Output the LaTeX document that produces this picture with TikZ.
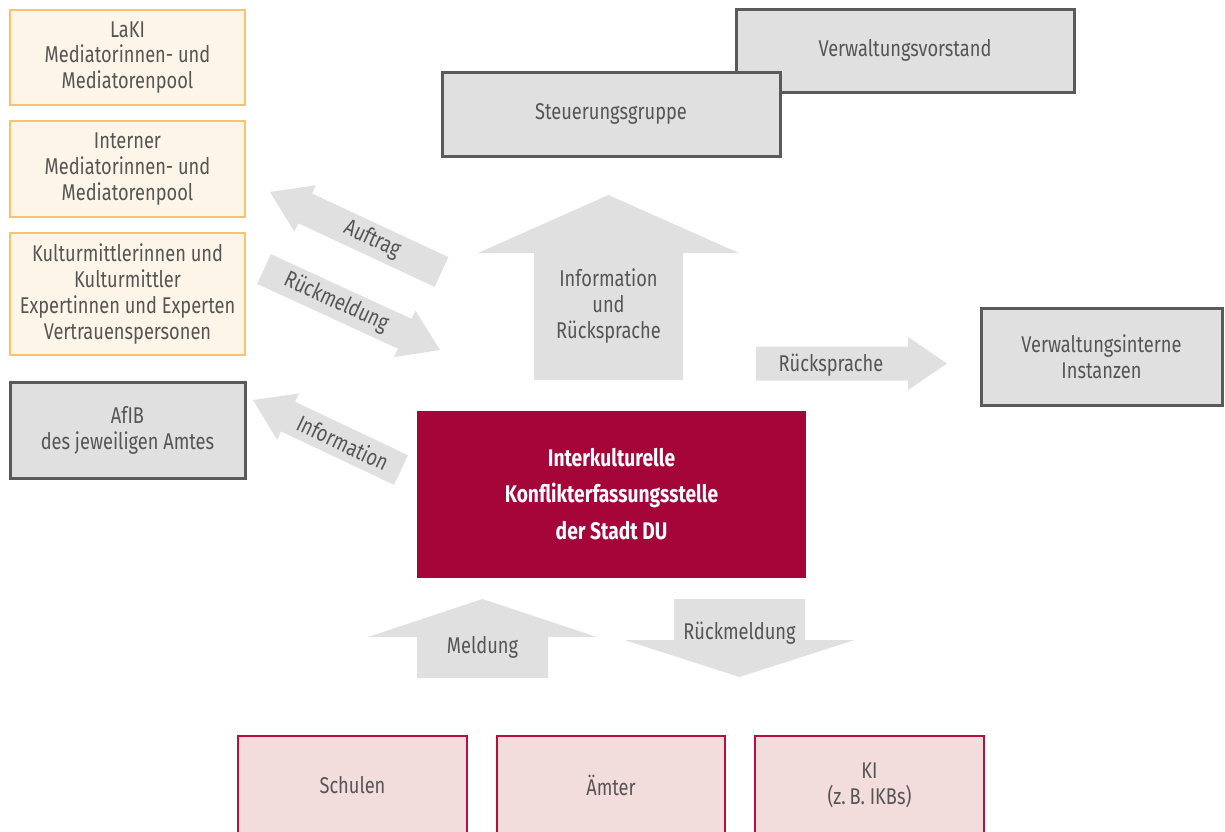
\documentclass[tikz,border=0pt]{standalone}
\usepackage{fontspec}
\setmainfont[FakeStretch=0.8]{Fira Sans}
\usepackage{tikz}
\usetikzlibrary{calc}
\definecolor{box_gray}{RGB}{224, 224, 224}
\definecolor{box_line}{RGB}{90, 90, 90}
\definecolor{txt_gray}{RGB}{85, 85, 85}
\definecolor{pool_fill}{RGB}{253, 245, 232}
\definecolor{pool_line}{RGB}{248, 195, 106}
\definecolor{du_red}{RGB}{166, 5, 58}
\definecolor{src_fill}{RGB}{242, 220, 220}
\definecolor{src_line}{RGB}{181, 17, 63}
\tikzstyle{gb}=[rectangle,fill=box_gray,draw=box_line,line width=1.5pt,
  text=txt_gray,align=center,inner sep=0pt,font=\fontsize{11.4}{12.9}\selectfont]
\tikzstyle{ob}=[gb,fill=pool_fill,draw=pool_line,line width=1.3pt]
\tikzstyle{pb}=[gb,fill=src_fill,draw=src_line,line width=1.2pt]
\tikzstyle{rb}=[rectangle,fill=du_red,text=white,align=center,
  font=\bfseries\fontsize{12}{18.25}\selectfont]
\tikzstyle{al}=[text=txt_gray,align=center,inner sep=0pt,
  font=\fontsize{11.4}{12.9}\selectfont]
\tikzstyle{af}=[fill=box_gray]
% block arrow from (#1t) to (#1p): half shaft, half head, head length
\newcommand{\flowarrow}[4]{%
  \coordinate (#1h) at ($(#1p)!#4!(#1t)$);
  \fill[af] ($(#1t)!#2!90:(#1p)$) -- ($(#1h)!#2!90:(#1p)$)
    -- ($(#1h)!#3!90:(#1p)$) -- (#1p) -- ($(#1h)!#3!-90:(#1p)$)
    -- ($(#1h)!#2!-90:(#1p)$) -- ($(#1t)!#2!-90:(#1p)$) -- cycle;}

\begin{document}
\begin{tikzpicture}[x=0.5pt, y=-0.5pt]
    \clip (0, 0) rectangle (1225, 831);
    \node [style=ob, minimum width=117.5pt, minimum height=47.5pt] (laki) at (127.5, 57.5) {LaKI\\Mediatorinnen- und\\Mediatorenpool};
    \node [style=ob, minimum width=117.5pt, minimum height=48pt] (intern) at (127.5, 169) {Interner\\Mediatorinnen- und\\Mediatorenpool};
    \node [style=ob, minimum width=117.5pt, minimum height=61pt] (kultur) at (127.5, 294) {Kulturmittlerinnen und\\Kulturmittler\\Expertinnen und Experten\\Vertrauenspersonen};
    \node [style=gb, minimum width=117.5pt, minimum height=48pt] (afib) at (127.5, 430) {AfIB\\des jeweiligen Amtes};
    \node [style=gb, minimum width=169pt, minimum height=41.5pt] (vorstand) at (905, 50.5) {Verwaltungsvorstand};
    \node [style=gb, minimum width=169pt, minimum height=42pt] (steuer) at (611, 114) {Steuerungsgruppe};
    \node [style=gb, minimum width=120.5pt, minimum height=48.5pt] (instanz) at (1101.5, 356.5) {Verwaltungsinterne\\Instanzen};
    \node [style=rb, minimum width=194.5pt, minimum height=83.5pt] (ikk) at (611.5, 494) {Interkulturelle\\Konflikterfassungsstelle\\der Stadt DU};
    \node [style=pb, minimum width=114.5pt, minimum height=49pt] (schulen) at (352.5, 785) {Schulen};
    \node [style=pb, minimum width=114pt, minimum height=49pt] (aemter) at (611, 785) {Ämter};
    \node [style=pb, minimum width=114.5pt, minimum height=49pt] (ki) at (869.5, 785) {KI\\(z.\,B. IKBs)};

    \coordinate (at) at (441.5, 272);
    \coordinate (ap) at (270, 192);
    \coordinate (rt) at (264, 269);
    \coordinate (rp) at (440, 350);
    \coordinate (it) at (401, 470);
    \coordinate (ip) at (253, 400);
    \coordinate (ut) at (608.5, 380);
    \coordinate (up) at (608.5, 195);
    \coordinate (st) at (756, 363.5);
    \coordinate (sp) at (947, 363.5);
    \coordinate (mt) at (482.5, 678);
    \coordinate (mp) at (482.5, 599);
    \coordinate (bt) at (739.5, 599);
    \coordinate (bp) at (739.5, 677);
    \flowarrow{a}{8.2pt}{12.8pt}{19.4pt}
    \flowarrow{r}{8.2pt}{12.8pt}{19.4pt}
    \flowarrow{i}{8.2pt}{12.8pt}{19.4pt}
    \flowarrow{u}{37.25pt}{65.25pt}{29pt}
    \flowarrow{s}{8.5pt}{13.25pt}{19.5pt}
    \flowarrow{m}{32.75pt}{57.25pt}{19pt}
    \flowarrow{b}{32.75pt}{57.5pt}{18.5pt}

    \path (at) -- (ap) node [style=al, sloped, pos=0.405] (auftrag) {Auftrag};
    \path (rt) -- (rp) node [style=al, sloped, pos=0.41] (rueck) {Rückmeldung};
    \path (it) -- (ip) node [style=al, sloped, pos=0.392] (info) {Information};
    \node [style=al] (infrue) at (608.5, 306) {Information\\und\\Rücksprache};
    \node [style=al] (ruesp) at (831, 365) {Rücksprache};
    \node [style=al] (meld) at (482.5, 647) {Meldung};
    \node [style=al] (ruemeld) at (739.5, 633) {Rückmeldung};
\end{tikzpicture}
\end{document}
